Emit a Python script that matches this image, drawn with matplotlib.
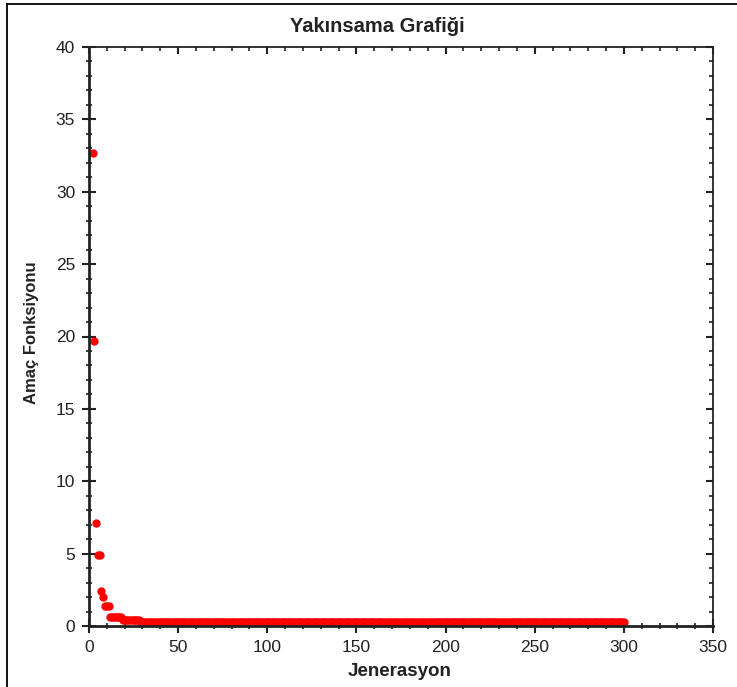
import numpy as np
import matplotlib
matplotlib.use("Agg")
import matplotlib.pyplot as plt
from matplotlib.lines import Line2D
from matplotlib.ticker import MultipleLocator

plt.rcParams['font.family'] = ['Liberation Sans', 'DejaVu Sans']

# convergence data
early_gen = [2, 3, 4, 5, 6, 7, 8, 9, 10, 11, 12, 13, 14, 15, 16, 17, 18]
early_val = [32.7, 19.7, 7.1, 4.9, 4.9, 2.4, 2.0, 1.4, 1.4, 1.4, 0.6, 0.6, 0.6, 0.6, 0.6, 0.6, 0.6]
mid_gen = list(range(19, 29))
mid_val = [0.4] * len(mid_gen)
tail_gen = list(range(29, 301))
tail_val = [0.25] * len(tail_gen)

gens = early_gen + mid_gen + tail_gen
vals = early_val + mid_val + tail_val

title = "Yakınsama Grafiği"
xlabel = "Jenerasyon"
ylabel = "Amaç Fonksiyonu"

fig = plt.figure(figsize=(7.37, 6.87), dpi=100)
ax = fig.add_axes([89/737, 61/687, 624/737, 579/687])

ax.plot(gens, vals, 'o', color='#ff0000', markersize=6, markeredgewidth=0, clip_on=False)

ax.set_xlim(0, 350)
ax.set_ylim(0, 40)
ax.xaxis.set_major_locator(MultipleLocator(50))
ax.xaxis.set_minor_locator(MultipleLocator(10))
ax.yaxis.set_major_locator(MultipleLocator(5))
ax.yaxis.set_minor_locator(MultipleLocator(1))

for s in ['left', 'bottom']:
    ax.spines[s].set_linewidth(2)
    ax.spines[s].set_color('#222222')
for s in ['top', 'right']:
    ax.spines[s].set_linewidth(1.3)
    ax.spines[s].set_color('#222222')

ax.tick_params(which='major', direction='inout', length=10, width=1.5, color='#222222',
               labelsize=12.5, labelcolor='#222222', pad=5)
ax.tick_params(which='minor', direction='inout', length=5, width=1.2, color='#222222')
ax.tick_params(which='both', top=True, right=True)
# inward ticks on the top and right sides
for t in ax.xaxis.get_major_ticks() + ax.xaxis.get_minor_ticks():
    t.tick2line.set_marker(matplotlib.markers.TICKDOWN)
for t in ax.yaxis.get_major_ticks() + ax.yaxis.get_minor_ticks():
    t.tick2line.set_marker(matplotlib.markers.TICKLEFT)
for t in ax.xaxis.get_major_ticks() + ax.yaxis.get_major_ticks():
    t.tick2line.set_markersize(5)
for t in ax.xaxis.get_minor_ticks() + ax.yaxis.get_minor_ticks():
    t.tick2line.set_markersize(3)

fig.text(377/737, 1 - 27/687, title, ha='center', va='center', fontsize=14.5, fontweight='bold', color='#222222')
fig.text(400/737, 1 - 671/687, xlabel, ha='center', va='center', fontsize=13.5, fontweight='bold', color='#222222')
fig.text(32/737, 1 - 333/687, ylabel, ha='center', va='center', rotation=90, fontsize=12, fontweight='bold', color='#222222')

# outer frame (left and top edges visible)
fig.add_artist(Line2D([7/737, 7/737], [0, 1 - 4/687], transform=fig.transFigure, color='black', lw=1.3))
fig.add_artist(Line2D([7/737, 1], [1 - 4/687, 1 - 4/687], transform=fig.transFigure, color='black', lw=1.3))

plt.savefig('out.png', dpi=100)
